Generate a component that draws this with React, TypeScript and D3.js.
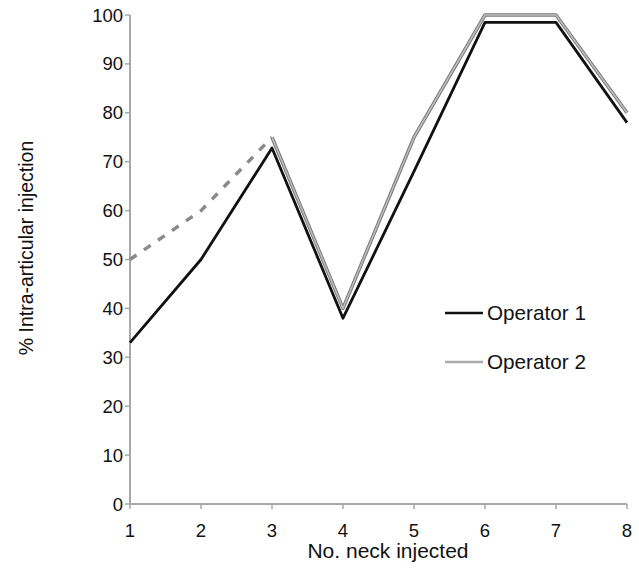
import React, { useEffect, useRef } from 'react';
import * as d3 from 'd3';

const necks = [1, 2, 3, 4, 5, 6, 7, 8];
const operator1 = [33, 50, 72.8, 38, 68, 98.5, 98.5, 78];
const operator2 = [50, 60, 75, 40, 75, 100, 100, 80];
const dashedUntil = 3; // operator 2 drawn dashed for necks 1-3
const yTicks = [0, 10, 20, 30, 40, 50, 60, 70, 80, 90, 100];

const W = 639;
const H = 569;

export default function App() {
  const ref = useRef<SVGSVGElement>(null);

  useEffect(() => {
    if (!ref.current) return;
    const svg = d3.select(ref.current);
    svg.selectAll('*').remove();

    const x = d3.scaleLinear().domain([1, 8]).range([130, 627]);
    const y = d3.scaleLinear().domain([0, 100]).range([504, 15]);
    const font = 'Liberation Sans, Arial, sans-serif';
    const axisColor = '#a8a8a8';

    // axes
    svg.append('line').attr('x1', x(1)).attr('x2', x(1)).attr('y1', y(100)).attr('y2', y(0))
      .attr('stroke', axisColor).attr('stroke-width', 2);
    svg.append('line').attr('x1', x(1)).attr('x2', x(8)).attr('y1', y(0)).attr('y2', y(0))
      .attr('stroke', axisColor).attr('stroke-width', 2);

    yTicks.forEach((t) => {
      svg.append('line').attr('x1', x(1) - 5).attr('x2', x(1)).attr('y1', y(t)).attr('y2', y(t))
        .attr('stroke', axisColor).attr('stroke-width', 1.5);
      svg.append('text').attr('x', x(1) - 7).attr('y', y(t) + 6.5).attr('text-anchor', 'end')
        .attr('font-family', font).attr('font-size', 18.5)
        .attr('fill', '#111').text(t);
    });
    necks.forEach((n) => {
      svg.append('line').attr('x1', x(n)).attr('x2', x(n)).attr('y1', y(0)).attr('y2', y(0) + 5)
        .attr('stroke', axisColor).attr('stroke-width', 1.5);
      svg.append('text').attr('x', x(n)).attr('y', y(0) + 33).attr('text-anchor', 'middle')
        .attr('font-family', font).attr('font-size', 18.5).attr('fill', '#111').text(n);
    });

    svg.append('text').attr('x', 388).attr('y', 558).attr('text-anchor', 'middle')
      .attr('font-family', font).attr('font-size', 21).attr('fill', '#111').text('No. neck injected');
    svg.append('text').attr('transform', 'translate(33,248) rotate(-90)').attr('text-anchor', 'middle')
      .attr('font-family', font).attr('font-size', 19.5).attr('fill', '#111').text('% Intra-articular injection');

    const line = d3.line<number>().x((_, i) => x(necks[i])).y((d) => y(d));
    const pts2 = operator2.map((v, i) => ({ n: necks[i], v }));
    const lineP = d3.line<{ n: number; v: number }>().x((d) => x(d.n)).y((d) => y(d.v));

    // operator 2 dashed part
    svg.append('path').attr('d', lineP(pts2.filter((d) => d.n <= dashedUntil)) ?? '')
      .attr('fill', 'none').attr('stroke', '#8a8a8a').attr('stroke-width', 3.5)
      .attr('stroke-dasharray', '8,9');
    // operator 2 solid part
    const solid2 = pts2.filter((d) => d.n >= dashedUntil);
    svg.append('path').attr('d', lineP(solid2) ?? '')
      .attr('fill', 'none').attr('stroke', '#7a7a7a').attr('stroke-width', 3.5).attr('stroke-linejoin', 'round');
    svg.append('path').attr('d', lineP(solid2) ?? '')
      .attr('fill', 'none').attr('stroke', '#bdbdbd').attr('stroke-width', 1.5).attr('stroke-linejoin', 'round');

    // operator 1
    svg.append('path').attr('d', line(operator1) ?? '')
      .attr('fill', 'none').attr('stroke', '#111').attr('stroke-width', 2.8).attr('stroke-linejoin', 'round');

    // legend
    const legend = [
      { label: 'Operator 1', color: '#111', yy: 313 },
      { label: 'Operator 2', color: '#aaa', yy: 362 },
    ];
    legend.forEach((l) => {
      svg.append('line').attr('x1', 445).attr('x2', 483).attr('y1', l.yy).attr('y2', l.yy)
        .attr('stroke', l.color).attr('stroke-width', 2.5);
      svg.append('text').attr('x', 487).attr('y', l.yy + 7).attr('font-family', font)
        .attr('font-size', 20.7).attr('fill', '#111').text(l.label);
    });
  }, []);

  return (
    <div style={{ position: 'fixed', left: 0, top: 0 }}>
      <svg ref={ref} width={W} height={H} style={{ display: 'block', background: '#fff' }} />
    </div>
  );
}
